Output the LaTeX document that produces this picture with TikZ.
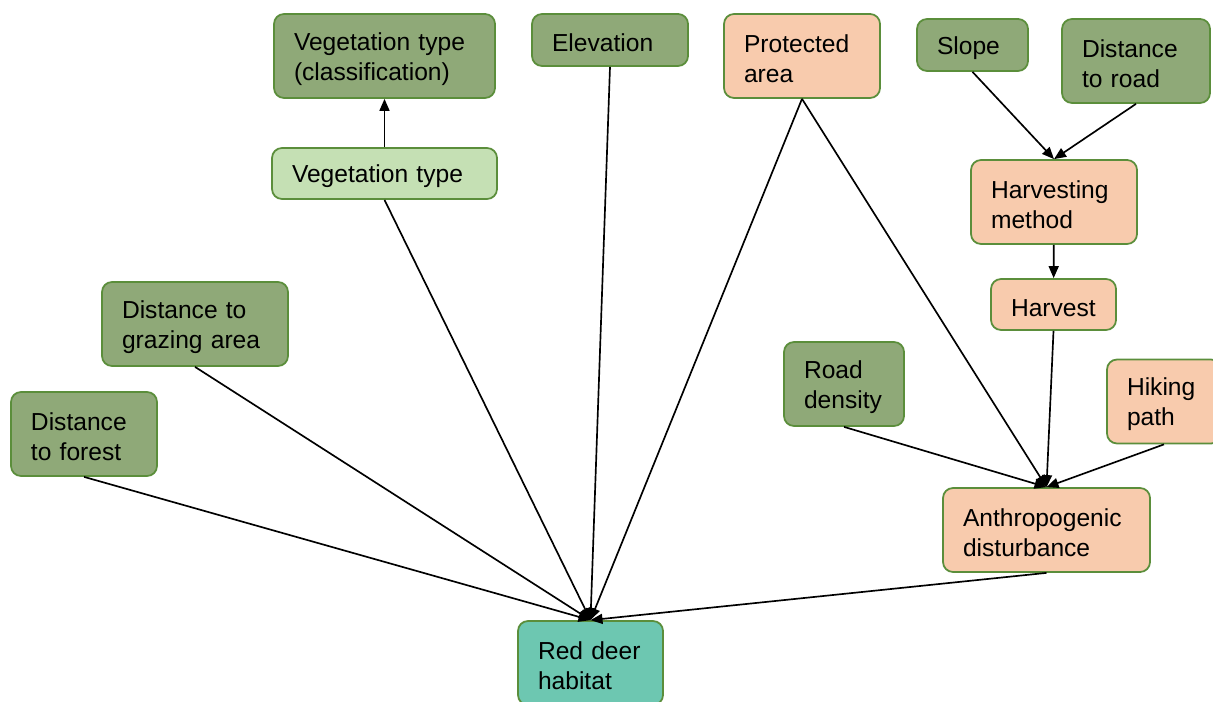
\documentclass[tikz,border=0pt]{standalone}
\usepackage{fontspec}
\setmainfont{Liberation Sans}
\usetikzlibrary{arrows.meta}

\definecolor{envgreen}{HTML}{8FA978}
\definecolor{vegpale}{HTML}{C5E0B4}
\definecolor{humpeach}{HTML}{F8CBAD}
\definecolor{deerteal}{HTML}{6DC7B1}
\definecolor{edgegreen}{HTML}{5B8E3B}

\begin{document}
\begin{tikzpicture}[
x=0.02cm, y=-0.02cm,
box/.style={draw=edgegreen, line width=1pt, rounded corners=0.2cm, align=left,
  inner xsep=0.4cm, inner ysep=0.1cm, font=\fontsize{14}{17}\selectfont,
  text height=0.47cm},
dims/.style 2 args={minimum width=#1*0.02cm, minimum height=#2*0.02cm, text width=(#1-40)*0.02cm},
envbox/.style={box, fill=envgreen},
vegbox/.style={box, fill=vegpale},
humbox/.style={box, fill=humpeach},
deerbox/.style={box, fill=deerteal},
arrow/.style={-{Triangle[length=2.4mm,width=2mm]}, line width=0.95pt}
]
\clip (0,0) rectangle (1213,702);

% top row
\node[envbox, dims={221}{84}] (vegclass) at (384.5,56) {Vegetation type\\(classification)};
\node[envbox, dims={156}{52}] (elev) at (610,40) {Elevation};
\node[humbox, dims={156}{84}] (prot) at (802,56) {Protected\\area};
\node[envbox, dims={111}{52}] (slope) at (972.5,45) {Slope};
\node[envbox, dims={148}{84}] (droad) at (1136,61) {Distance\\to road};

% middle
\node[vegbox, dims={225}{51}] (veg) at (384.5,173.5) {Vegetation type};
\node[humbox, dims={166}{84}] (hmeth) at (1054,202) {Harvesting\\method};
\node[humbox, dims={125}{51}] (harvest) at (1053.5,304.5) {Harvest};
\node[envbox, dims={186}{84}] (dgraz) at (195,324) {Distance to\\grazing area};
\node[envbox, dims={146}{84}] (dforest) at (84,434) {Distance\\to forest};
\node[envbox, dims={120}{84}] (rdens) at (844,384) {Road\\density};
\node[humbox, dims={114}{84}] (hike) at (1164,401.5) {Hiking\\path};
\node[humbox, dims={207}{84}] (anthro) at (1046.5,530) {Anthropogenic\\disturbance};

% target
\node[deerbox, dims={145}{84}] (deer) at (590.5,663) {Red deer\\habitat};

\draw[arrow] (veg) -- (vegclass);
\draw[arrow] (slope.south) -- (hmeth.north);
\draw[arrow] (droad.south) -- (hmeth.north);
\draw[arrow] (hmeth) -- (harvest);
\draw[arrow] (harvest.south) -- (anthro.north);
\draw[arrow] (prot.south) -- (anthro.north);
\draw[arrow] (rdens.south) -- (anthro.north);
\draw[arrow] (hike.south) -- (anthro.north);

\draw[arrow] (dforest.south) -- (deer.north);
\draw[arrow] (dgraz.south) -- (deer.north);
\draw[arrow] (veg.south) -- (deer.north);
\draw[arrow] (elev.south) -- (deer.north);
\draw[arrow] (prot.south) -- (deer.north);
\draw[arrow] (anthro.south) -- (deer.north);
\end{tikzpicture}
\end{document}
